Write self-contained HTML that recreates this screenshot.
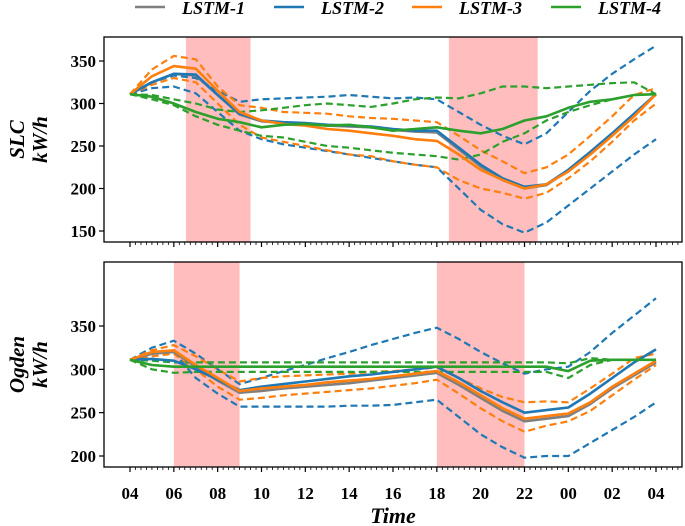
<!DOCTYPE html>
<html><head><meta charset="utf-8"><style>
body{margin:0;background:#fff}
svg{display:block;font-family:"Liberation Serif",serif}
</style></head><body>
<svg id="c" width="685" height="526" viewBox="0 0 685 526"></svg>
<script>
const hours=[4,5,6,7,8,9,10,11,12,13,14,15,16,17,18,19,20,21,22,23,24,25,26,27,28];
const xTickLabels=["04","06","08","10","12","14","16","18","20","22","00","02","04"];
const slcTicks=[150,200,250,300,350];
const ogdTicks=[200,250,300,350];
const seriesNames=["LSTM-1","LSTM-2","LSTM-3","LSTM-4"];
const slcGray=[311,325,335,333,310,287,279,277,276,274,273,272,269,267,266,246,226,210,200,204,221,242,264,287,311];
const slcBlue=[311,325,335,334,310,288,280,278,277,275,274,273,270,268,268,248,228,212,202,205,222,243,265,288,311];
const slcBlueUp=[311,325,333,330,315,302,305,306,307,308,310,308,306,307,305,290,275,262,252,265,290,315,335,352,368];
const slcBlueLo=[311,318,320,312,290,268,258,252,248,244,240,236,232,228,225,200,175,158,148,160,180,200,220,240,258];
const slcOrange=[311,332,344,341,315,290,280,276,274,270,268,265,262,258,256,240,222,210,200,205,220,240,262,285,311];
const slcOrangeUp=[311,340,356,352,320,298,295,290,289,288,285,283,282,280,278,262,245,232,218,225,240,262,285,310,318];
const slcOrangeLo=[311,322,330,325,300,275,260,255,250,245,240,238,232,228,225,210,200,195,188,195,212,232,255,280,300];
const slcGreen=[311,308,300,290,282,278,272,275,276,274,275,272,268,270,272,268,265,270,280,285,295,302,305,310,311];
const slcGreenUp=[311,310,305,300,293,290,292,295,298,300,298,296,300,305,307,306,312,320,320,318,320,322,324,325,311];
const slcGreenLo=[311,305,298,285,275,268,262,260,255,250,248,245,242,240,238,234,240,255,265,280,290,298,305,310,311];
const ogdGray=[311,318,320,303,287,273,275,278,280,282,284,287,290,293,296,282,267,252,240,243,246,260,278,293,308];
const ogdBlue=[311,312,310,300,288,276,280,283,286,289,292,294,297,300,303,290,275,262,250,253,256,272,290,308,323];
const ogdBlueUp=[311,325,333,318,300,283,290,298,305,313,320,328,335,342,348,335,320,307,295,300,303,320,342,362,382];
const ogdBlueLo=[311,318,320,290,272,257,257,257,257,257,258,258,259,262,265,245,225,210,198,200,200,215,230,245,262];
const ogdOrange=[311,320,322,305,290,275,278,280,282,285,287,289,292,295,298,285,270,255,243,246,249,262,280,295,310];
const ogdOrangeUp=[311,322,328,315,300,286,290,292,293,294,295,297,298,300,302,290,278,268,262,263,262,278,295,313,318];
const ogdOrangeLo=[311,315,318,300,280,265,267,270,272,274,276,278,281,284,288,272,255,240,228,235,240,252,270,288,305];
const ogdGreen=[311,305,303,303,303,303,303,303,303,303,303,303,303,303,303,303,303,303,303,303,298,310,311,311,311];
const ogdGreenUp=[311,310,308,308,308,308,308,308,308,308,308,308,308,308,308,308,308,308,308,308,307,313,311,311,311];
const ogdGreenLo=[311,300,296,297,297,297,297,297,297,297,297,297,297,297,297,297,297,297,297,297,290,305,311,311,311];
const slcShade=[[6.55,9.5],[18.55,22.6]];
const ogdShade=[[6,9],[18,22]];

const NS="http://www.w3.org/2000/svg";
const svg=document.getElementById('c');
const C={gray:"#7f7f7f",blue:"#1f77b4",orange:"#ff7f0e",green:"#2ca02c"};
function el(t,a,p){const e=document.createElementNS(NS,t);for(const k in a)e.setAttribute(k,a[k]);(p||svg).appendChild(e);return e;}
const X0=104,X1=682;
function xs(h){return 130+(h-4)*(656-130)/24;}

function panel(name,top,bot,yv0,yp0,yv1,yp1,ticks,shade,lines,lab){
  const ys=v=>yp0+(v-yv0)*(yp1-yp0)/(yv1-yv0);
  const g=el('g',{});
  
  
  shade.forEach((s,i)=>{const r=el('rect',{x:xs(s[0]),y:top,width:xs(s[1])-xs(s[0]),height:bot-top,fill:"#ffbdbd"},g);
    
    });
  lines.forEach(L=>{
    const d=hours.map((h,i)=>(i?'L':'M')+xs(h).toFixed(1)+','+ys(L.v[i]).toFixed(1)).join('');
    const p=el('path',{d:d,fill:'none',stroke:L.c,'stroke-width':L.dash?2.2:2.6,'stroke-dasharray':L.dash?'7,4':'none','stroke-linejoin':'round'},g);
    
    
  });
  el('rect',{x:X0,y:top,width:X1-X0,height:bot-top,fill:'none',stroke:'#000','stroke-width':1.3},g);
  ticks.forEach(t=>{const y=ys(t);el('line',{x1:X0-5,x2:X0,y1:y,y2:y,stroke:'#000','stroke-width':1.2},g);
    const tx=el('text',{x:X0-8,y:y+6,'text-anchor':'end','font-size':17,'font-weight':'bold'},g);tx.textContent=t;
    
    });
  for(let h=4;h<=29.4;h+=0.25){const x=xs(h);if(x>X1)break;const major=Math.abs(h-Math.round(h))<1e-6&&Math.round(h)%2==0;
    el('line',{x1:x,x2:x,y1:bot,y2:bot+(major?5:3),stroke:'#000','stroke-width':major?1.2:0.8},g);}
  const yl=el('text',{transform:`translate(27,${(top+bot)/2}) rotate(-90)`,'text-anchor':'middle','font-size':21,'font-weight':'bold','font-style':'italic'},g);
  yl.innerHTML=`<tspan x="0" dy="-3">${lab}</tspan><tspan x="0" dy="23">kW/h</tspan>`;
  
  
}
function mk(pre,g,b,bu,bl,o,ou,ol,gr,gu,gl){return[
 {n:pre+'-lstm2-upper',v:bu,c:C.blue,dash:1},{n:pre+'-lstm2-lower',v:bl,c:C.blue,dash:1},
 {n:pre+'-lstm3-upper',v:ou,c:C.orange,dash:1},{n:pre+'-lstm3-lower',v:ol,c:C.orange,dash:1},
 {n:pre+'-lstm4-upper',v:gu,c:C.green,dash:1},{n:pre+'-lstm4-lower',v:gl,c:C.green,dash:1},
 {n:pre+'-lstm1-line',v:g,c:C.gray},{n:pre+'-lstm2-line',v:b,c:C.blue},
 {n:pre+'-lstm3-line',v:o,c:C.orange},{n:pre+'-lstm4-line',v:gr,c:C.green}];}
panel('slc',37,242,350,61,150,231,slcTicks,slcShade,mk('slc',slcGray,slcBlue,slcBlueUp,slcBlueLo,slcOrange,slcOrangeUp,slcOrangeLo,slcGreen,slcGreenUp,slcGreenLo),'SLC');
panel('ogden',262,467,350,326,200,456,ogdTicks,ogdShade,mk('ogden',ogdGray,ogdBlue,ogdBlueUp,ogdBlueLo,ogdOrange,ogdOrangeUp,ogdOrangeLo,ogdGreen,ogdGreenUp,ogdGreenLo),'Ogden');
xTickLabels.forEach((t,i)=>{const tx=el('text',{x:xs(4+2*i),y:499,'text-anchor':'middle','font-size':17,'font-weight':'bold'});tx.textContent=t;
  
  });
const xt=el('text',{x:393,y:523,'text-anchor':'middle','font-size':22,'font-weight':'bold','font-style':'italic'});xt.textContent='Time';


const lx=[135,274,412,551],lc=[C.gray,C.blue,C.orange,C.green];
seriesNames.forEach((n,i)=>{const g=el('g',{});
  
  
  el('line',{x1:lx[i],x2:lx[i]+30,y1:7,y2:7,stroke:lc[i],'stroke-width':2.6},g);
  const t=el('text',{x:lx[i]+47,y:14,'font-size':18,'font-weight':'bold','font-style':'italic'},g);t.textContent=n;});
</script>
</body></html>
